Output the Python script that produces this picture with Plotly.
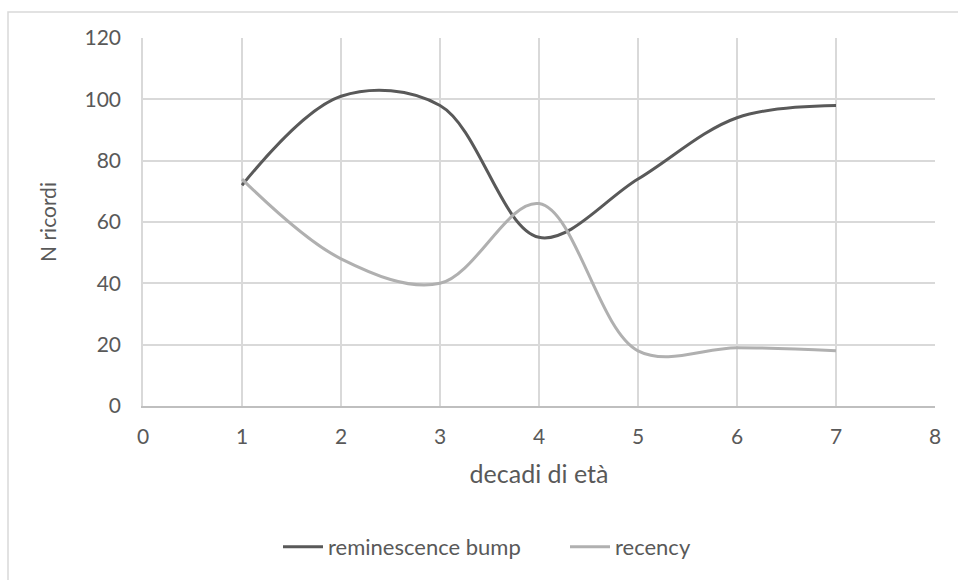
import plotly.graph_objects as go

# decades of age and number of memories per decade
decadi = [1, 2, 3, 4, 5, 6, 7]
reminiscence_bump = [72, 101, 98, 55, 74, 94, 98]
recency = [74, 48, 40, 66, 18, 19, 18]

x_ticks = list(range(0, 9))
y_ticks = list(range(0, 121, 20))

FONT = "Lato, Open Sans, sans-serif"
TXT = "#595959"
GRID = "#d9d9d9"

fig = go.Figure()
fig.add_trace(go.Scatter(
    x=decadi, y=reminiscence_bump, name="reminescence bump", mode="lines",
    line=dict(color="#595959", width=3, shape="spline", smoothing=1.0),
))
fig.add_trace(go.Scatter(
    x=decadi, y=recency, name="recency", mode="lines",
    line=dict(color="#b0b0b0", width=3, shape="spline", smoothing=1.0),
))

W, H = 958, 580
L, R, T, B = 143, 23, 38, 174
pw, ph = W - L - R, H - T - B

# light frame around the whole chart
fig.add_shape(
    type="rect", xref="paper", yref="paper",
    x0=(8 - L) / pw, x1=(W + 10 - L) / pw,
    y0=1 - (H + 10 - T) / ph, y1=1 + (T - 12) / ph,
    line=dict(color="#d9d9d9", width=1.5), fillcolor="rgba(0,0,0,0)", layer="below",
)

fig.update_layout(
    width=W, height=H,
    margin=dict(l=L, r=R, t=T, b=B, autoexpand=False),
    paper_bgcolor="white", plot_bgcolor="white",
    font=dict(family=FONT, size=21, color=TXT),
    showlegend=True,
    legend=dict(
        orientation="h", x=0.5 + 26 / pw, xanchor="center",
        y=-(547 - (H - B)) / ph, yanchor="middle",
        font=dict(family=FONT, size=22, color=TXT),
        itemwidth=40, tracegroupgap=0, bgcolor="rgba(0,0,0,0)",
        entrywidth=232, entrywidthmode="pixels",
    ),
)
fig.update_xaxes(
    range=[0, 8], tickvals=x_ticks, ticktext=[str(v) for v in x_ticks],
    showgrid=True, gridcolor=GRID, gridwidth=1.5,
    showline=True, linecolor="#bfbfbf", linewidth=1.5, zeroline=False,
    ticks="", ticklabelstandoff=11, automargin=False,
    title=dict(text="decadi di età", font=dict(family=FONT, size=25, color=TXT), standoff=19),
)
fig.update_yaxes(
    range=[0, 120], tickvals=y_ticks, ticktext=[str(v) for v in y_ticks],
    showgrid=True, gridcolor=GRID, gridwidth=1.5,
    showline=True, linecolor=GRID, linewidth=1.5, zeroline=False,
    ticks="", ticklabelstandoff=16, automargin=False,
    title=dict(text="N ricordi", font=dict(family=FONT, size=21, color=TXT), standoff=22),
)

fig.write_html("out.html")
